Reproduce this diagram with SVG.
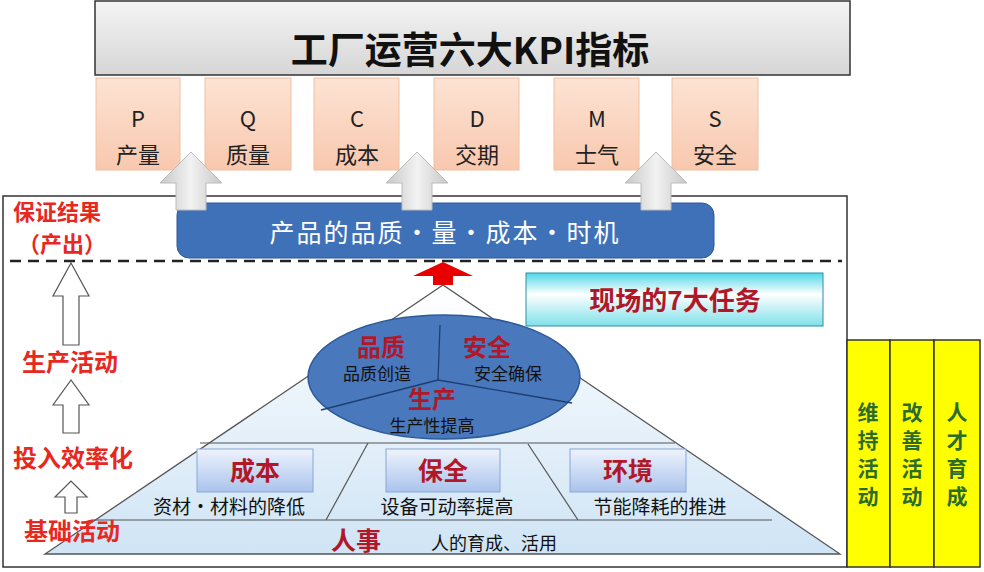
<svg xmlns="http://www.w3.org/2000/svg" width="984" height="572" viewBox="0 0 984 572">
<defs>
<linearGradient id="gray" x1="0" y1="0" x2="0" y2="1"><stop offset="0" stop-color="#f4f4f4"/><stop offset="1" stop-color="#d6d6d6"/></linearGradient>
<linearGradient id="peach" x1="0" y1="0" x2="0" y2="1"><stop offset="0" stop-color="#fde3d4"/><stop offset="1" stop-color="#f8c8ae"/></linearGradient>
<linearGradient id="garrow" x1="0" y1="0" x2="1" y2="0"><stop offset="0" stop-color="#c8c8c8"/><stop offset="0.5" stop-color="#f2f2f2"/><stop offset="1" stop-color="#c8c8c8"/></linearGradient>
<linearGradient id="pyr" x1="0" y1="0" x2="0" y2="1"><stop offset="0" stop-color="#ffffff"/><stop offset="1" stop-color="#cfe4f5"/></linearGradient>
<linearGradient id="cyan" x1="0" y1="0" x2="0" y2="1"><stop offset="0" stop-color="#4fd8e8"/><stop offset="0.4" stop-color="#ffffff"/><stop offset="1" stop-color="#7fe0ea"/></linearGradient>
<linearGradient id="bbox" x1="0" y1="0" x2="0" y2="1"><stop offset="0" stop-color="#eef3fc"/><stop offset="1" stop-color="#aac3ec"/></linearGradient>
</defs>
<style>
.t{font-family:"Noto Sans CJK SC","Liberation Sans",sans-serif}
.red{fill:#e8281e;font-weight:bold}
.dred{fill:#b0182a;font-weight:bold}
.kpi{fill:url(#peach);stroke:#f0c0a0}
.hol{fill:#fff;stroke:#555;stroke-width:1.2}
.ln{stroke:#555;stroke-width:1.2;fill:none}
.yc{fill:#ffff00;stroke:#333;stroke-width:1.5}
</style>
<rect width="984" height="572" fill="#fff"/>
<g id="title"><rect x="95" y="1" width="755" height="74" fill="url(#gray)" stroke="#333" stroke-width="1.5"/>
<text class="t" x="470" y="64" font-size="37" font-weight="bold" text-anchor="middle" fill="#111">工厂运营六大KPI指标</text></g>
<g id="kpis" class="t" font-size="22" text-anchor="middle" fill="#222">
<g id="kP"><rect class="kpi" x="96" y="78" width="84" height="92"/><text x="138" y="127">P</text><text x="138" y="163">产量</text></g>
<g id="kQ"><rect class="kpi" x="205" y="78" width="86" height="92"/><text x="248" y="127">Q</text><text x="248" y="163">质量</text></g>
<g id="kC"><rect class="kpi" x="314" y="78" width="85" height="92"/><text x="357" y="127">C</text><text x="357" y="163">成本</text></g>
<g id="kD"><rect class="kpi" x="434" y="78" width="85" height="92"/><text x="477" y="127">D</text><text x="477" y="163">交期</text></g>
<g id="kM"><rect class="kpi" x="554" y="78" width="85" height="92"/><text x="597" y="127">M</text><text x="597" y="163">士气</text></g>
<g id="kS"><rect class="kpi" x="672" y="78" width="86" height="92"/><text x="715" y="127">S</text><text x="715" y="163">安全</text></g>
</g>
<g id="frame"><rect x="3" y="196" width="844" height="371" fill="none" stroke="#333" stroke-width="1.5"/></g>
<g id="banner"><rect x="177" y="203" width="537" height="55" rx="12" fill="#3f71b8" stroke="#2b5a9a"/>
<text class="t" x="445" y="242" font-size="25" fill="#fff" text-anchor="middle" letter-spacing="2">产品的品质•量•成本•时机</text></g>
<g id="connectors">
<path d="M176,210 V183 H160 L191,152 L222,183 H206 V210 Z" fill="url(#garrow)" stroke="#bbb"/>
<path d="M402,210 V183 H386 L417,152 L448,183 H432 V210 Z" fill="url(#garrow)" stroke="#bbb"/>
<path d="M641,210 V183 H625 L656,152 L687,183 H671 V210 Z" fill="url(#garrow)" stroke="#bbb"/>
<line x1="10" y1="261" x2="842" y2="261" stroke="#222" stroke-width="2.5" stroke-dasharray="11,7"/>
<path d="M63,345 V296 H53 L71,263 L89,296 H79 V345 Z" class="hol"/>
<path d="M63,433 V405 H53 L71,380 L89,405 H79 V433 Z" class="hol"/>
<path d="M65,513 V497 H55 L71,481 L87,497 H77 V513 Z" class="hol"/>
<path d="M433,285 V276 H413 L443,262 L473,276 H453 V285 Z" fill="#e80000"/>
</g>
<g id="pyramid">
<path d="M443,285 L840,554 H45 Z" fill="url(#pyr)" stroke="#555" stroke-width="1.3"/>
<line class="ln" x1="200" y1="443" x2="675" y2="443"/>
<line class="ln" x1="92" y1="520" x2="772" y2="520"/>
<line class="ln" x1="368" y1="443" x2="326" y2="520"/>
<line class="ln" x1="528" y1="444" x2="578" y2="520"/>
</g>
<g id="ellipse">
<ellipse cx="444" cy="377" rx="136" ry="62" fill="#4a78bd" stroke="#2b5a9a" stroke-width="1.5"/>
<line x1="440" y1="325" x2="438" y2="380" stroke="#1f3f70" stroke-width="1.3"/>
<line x1="438" y1="380" x2="321" y2="410" stroke="#1f3f70" stroke-width="1.3"/>
<line x1="438" y1="380" x2="572" y2="403" stroke="#1f3f70" stroke-width="1.3"/>
<text class="t dred" x="381" y="356" font-size="24" text-anchor="middle">品质</text>
<text class="t" x="377" y="380" font-size="17" text-anchor="middle" fill="#111">品质创造</text>
<text class="t dred" x="487" y="356" font-size="24" text-anchor="middle">安全</text>
<text class="t" x="508" y="380" font-size="17" text-anchor="middle" fill="#111">安全确保</text>
<text class="t dred" x="432" y="408" font-size="24" text-anchor="middle">生产</text>
<text class="t" x="432" y="432" font-size="17" text-anchor="middle" fill="#111">生产性提高</text>
</g>
<g id="cost"><rect x="197" y="449" width="116" height="43" fill="url(#bbox)" stroke="#8aa6d8"/><text class="t dred" x="255" y="480" font-size="25" text-anchor="middle">成本</text>
<text class="t" x="229" y="514" font-size="19" text-anchor="middle" fill="#111">资材·材料的降低</text></g>
<g id="maint"><rect x="386" y="449" width="114" height="43" fill="url(#bbox)" stroke="#8aa6d8"/><text class="t dred" x="443" y="480" font-size="25" text-anchor="middle">保全</text>
<text class="t" x="447" y="514" font-size="19" text-anchor="middle" fill="#111">设备可动率提高</text></g>
<g id="env"><rect x="570" y="449" width="116" height="43" fill="url(#bbox)" stroke="#8aa6d8"/><text class="t dred" x="628" y="480" font-size="25" text-anchor="middle">环境</text>
<text class="t" x="660" y="514" font-size="19" text-anchor="middle" fill="#111">节能降耗的推进</text></g>
<g id="hr"><text class="t dred" x="356" y="550" font-size="25" text-anchor="middle">人事</text>
<text class="t" x="494" y="550" font-size="18" text-anchor="middle" fill="#111">人的育成、活用</text></g>
<g id="tasks"><rect x="526" y="273" width="297" height="53" fill="url(#cyan)" stroke="#2a8fa0"/>
<text class="t dred" x="675" y="310" font-size="26" text-anchor="middle">现场的7大任务</text></g>
<g id="left" class="t red" font-size="24">
<text x="13" y="220" font-size="22">保证结果</text><text x="18" y="252" font-size="22">（产出）</text>
<text x="22" y="371">生产活动</text>
<text x="13" y="467">投入效率化</text>
<text x="24" y="540">基础活动</text>
</g>
<g id="cols" class="t" font-size="21" font-weight="bold" fill="#2d6b2d" text-anchor="middle">
<rect class="yc" x="847" y="340" width="43" height="227"/>
<rect class="yc" x="890" y="340" width="44" height="227"/>
<rect class="yc" x="934" y="340" width="46" height="227"/>
<text x="868" y="420">维</text><text x="868" y="448">持</text><text x="868" y="476">活</text><text x="868" y="504">动</text>
<text x="912" y="420">改</text><text x="912" y="448">善</text><text x="912" y="476">活</text><text x="912" y="504">动</text>
<text x="957" y="420">人</text><text x="957" y="448">才</text><text x="957" y="476">育</text><text x="957" y="504">成</text>
</g>
</svg>
